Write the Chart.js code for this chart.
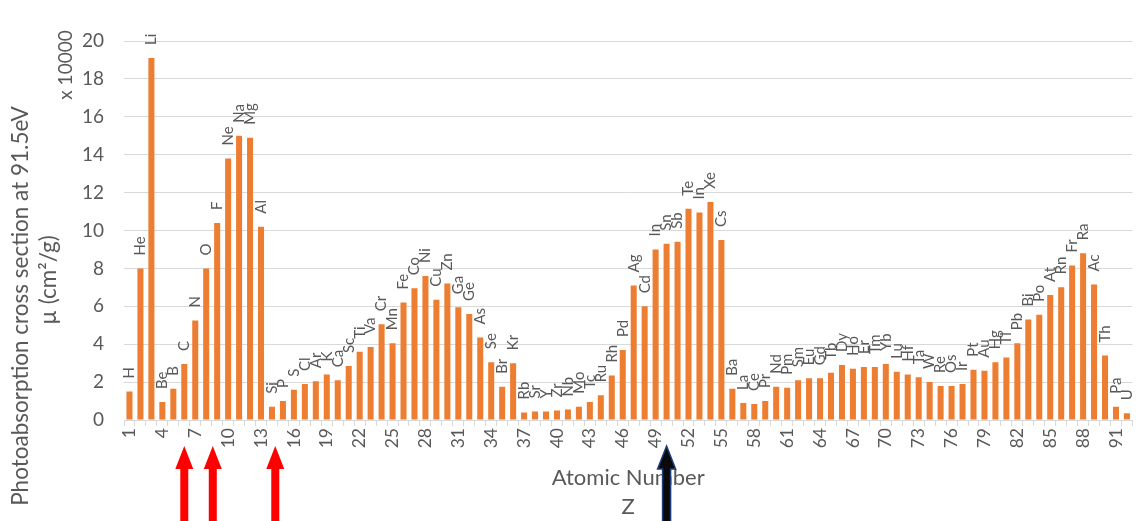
<!DOCTYPE html>
<html>
<head>
<meta charset="utf-8">
<title>Photoabsorption cross section at 91.5 eV</title>
<script src="https://cdn.jsdelivr.net/npm/chart.js@4.4.1/dist/chart.umd.min.js"></script>
<style>
  html, body { margin: 0; padding: 0; background: #ffffff; overflow: hidden; }
  #wrap { position: relative; width: 1150px; height: 521px; }
</style>
</head>
<body>
<div id="wrap"><canvas id="chart" width="1150" height="521"></canvas></div>
<script>
// Atomic numbers Z = 1 … 92
const atomicNumbers = Array.from({ length: 92 }, (_, i) => String(i + 1));

// Element symbols written above each bar
const symbols = [
  'H', 'He', 'Li', 'Be', 'B', 'C', 'N', 'O', 'F', 'Ne',
  'Na', 'Mg', 'Al', 'Si', 'P', 'S', 'Cl', 'Ar', 'K', 'Ca',
  'Sc', 'Ti', 'Va', 'Cr', 'Mn', 'Fe', 'Co', 'Ni', 'Cu', 'Zn',
  'Ga', 'Ge', 'As', 'Se', 'Br', 'Kr', 'Rb', 'Sr', 'Y', 'Zr',
  'Nb', 'Mo', 'Tc', 'Ru', 'Rh', 'Pd', 'Ag', 'Cd', 'In', 'Sn',
  'Sb', 'Te', 'In', 'Xe', 'Cs', 'Ba', 'La', 'Ce', 'Pr', 'Nd',
  'Pm', 'Sm', 'Eu', 'Gd', 'Tb', 'Dy', 'Ho', 'Er', 'Tm', 'Yb',
  'Lu', 'Hf', 'Ta', 'W', 'Re', 'Os', 'Ir', 'Pt', 'Au', 'Hg',
  'Tl', 'Pb', 'Bi', 'Po', 'At', 'Rn', 'Fr', 'Ra', 'Ac', 'Th',
  'Pa', 'U'
];

// Mass absorption coefficient µ at 91.5 eV, in units of 10000 cm²/g
const mu = [
  1.5, 8.0, 19.1, 0.95, 1.65, 2.95, 5.25, 8.0, 10.4, 13.8,
  15.0, 14.9, 10.2, 0.7, 1.0, 1.6, 1.9, 2.05, 2.4, 2.1,
  2.85, 3.6, 3.85, 5.05, 4.05, 6.2, 6.95, 7.6, 6.35, 7.2,
  5.95, 5.6, 4.35, 3.05, 1.75, 3.0, 0.4, 0.45, 0.45, 0.5,
  0.55, 0.7, 0.95, 1.3, 2.35, 3.7, 7.1, 6.0, 9.0, 9.3,
  9.4, 11.15, 10.95, 11.5, 9.5, 1.65, 0.9, 0.85, 1.0, 1.75,
  1.7, 2.1, 2.2, 2.2, 2.5, 2.9, 2.7, 2.8, 2.8, 2.95,
  2.55, 2.4, 2.25, 2.0, 1.8, 1.8, 1.9, 2.65, 2.6, 3.05,
  3.3, 4.05, 5.3, 5.55, 6.6, 7.0, 8.15, 8.8, 7.15, 3.4,
  0.7, 0.35
];

// Value axis range and step
const yMin = 0;
const yMax = 20;
const yStep = 2;

// Every third atomic number gets a tick label
const tickEvery = 3;

// Axis texts
const yTitleLines = ['Photoabsorption cross section at 91.5eV', 'µ (cm²/g)'];
const yUnitText = 'x 10000';
const xTitleLines = ['Atomic Number', 'Z'];

// Highlight arrows under the axis, by atomic number
const redArrowZ = [6, 8.6, 14.3];
const darkArrowZ = [50];

const FONT = 'Lato, "Open Sans", sans-serif';
const TEXT = '#595959';
const GRID = '#d9d9d9';
const BAR = '#ed7d31';

// Rotated element symbols above the bars
const symbolLabels = {
  id: 'symbolLabels',
  afterDatasetsDraw(chart) {
    const { ctx } = chart;
    const meta = chart.getDatasetMeta(0);
    ctx.save();
    ctx.fillStyle = TEXT;
    ctx.font = '15px ' + FONT;
    ctx.textAlign = 'left';
    ctx.textBaseline = 'middle';
    meta.data.forEach((bar, i) => {
      ctx.save();
      ctx.translate(bar.x, bar.y - 13);
      ctx.rotate(-Math.PI / 2);
      ctx.fillText(symbols[i], 0, 0);
      ctx.restore();
    });
    ctx.restore();
  }
};

// Axis titles and arrows
const decorations = {
  id: 'decorations',
  afterDraw(chart) {
    const { ctx, chartArea, scales } = chart;
    ctx.save();
    ctx.fillStyle = TEXT;
    ctx.textAlign = 'center';
    ctx.textBaseline = 'middle';

    // vertical titles
    const drawRotated = (text, x, y, size) => {
      ctx.save();
      ctx.font = size + 'px ' + FONT;
      ctx.translate(x, y);
      ctx.rotate(-Math.PI / 2);
      ctx.fillText(text, 0, 0);
      ctx.restore();
    };
    drawRotated(yTitleLines[0], 21, 306, 22.5);
    drawRotated(yTitleLines[1], 49, 280, 22.5);
    drawRotated(yUnitText, 66, 65, 19);

    // horizontal title, centred on the plot
    const cx = (chartArea.left + chartArea.right) / 2;
    ctx.font = '22px ' + FONT;
    ctx.fillText(xTitleLines[0], cx, 478);
    ctx.fillText(xTitleLines[1], cx, 507);

    // arrows pointing up at the axis
    const arrow = (z, fill, stroke) => {
      const x = scales.x.getPixelForValue(z - 1);
      const tip = 446, base = 469, bottom = 530, hw = 9, sw = 4;
      ctx.beginPath();
      ctx.moveTo(x, tip);
      ctx.lineTo(x + hw, base);
      ctx.lineTo(x + sw, base);
      ctx.lineTo(x + sw, bottom);
      ctx.lineTo(x - sw, bottom);
      ctx.lineTo(x - sw, base);
      ctx.lineTo(x - hw, base);
      ctx.closePath();
      ctx.fillStyle = fill;
      ctx.fill();
      if (stroke) {
        ctx.strokeStyle = stroke;
        ctx.lineWidth = 1.5;
        ctx.stroke();
      }
    };
    redArrowZ.forEach(z => arrow(z, '#ff0000', null));
    darkArrowZ.forEach(z => arrow(z, '#0a0a0a', '#1f3d7a'));
    ctx.restore();
  }
};

new Chart(document.getElementById('chart'), {
  type: 'bar',
  data: {
    labels: atomicNumbers,
    datasets: [{
      data: mu,
      backgroundColor: BAR,
      borderWidth: 0,
      barPercentage: 0.55,
      categoryPercentage: 1.0
    }]
  },
  options: {
    responsive: false,
    animation: false,
    devicePixelRatio: 1,
    layout: { padding: { left: 0, top: 41, right: 8, bottom: 0 } },
    plugins: {
      legend: { display: false },
      tooltip: { enabled: false },
      title: { display: false }
    },
    scales: {
      x: {
        offset: true,
        grid: {
          display: true,
          drawOnChartArea: false,
          drawTicks: true,
          tickLength: 6,
          color: GRID,
          offset: true
        },
        border: { display: true, color: GRID, width: 1 },
        ticks: {
          autoSkip: false,
          maxRotation: 90,
          minRotation: 90,
          padding: 2,
          color: TEXT,
          font: { family: FONT, size: 17.5 },
          callback: (value, index) => (index % tickEvery === 0 ? atomicNumbers[index] : '')
        },
        afterFit: (scale) => { scale.height = 101; }
      },
      y: {
        min: yMin,
        max: yMax,
        grid: { color: GRID, drawTicks: false, lineWidth: 1 },
        border: { display: false },
        ticks: {
          stepSize: yStep,
          padding: 20,
          color: TEXT,
          font: { family: FONT, size: 19 }
        },
        afterFit: (scale) => { scale.width = 124; }
      }
    }
  },
  plugins: [symbolLabels, decorations]
});
</script>
</body>
</html>
